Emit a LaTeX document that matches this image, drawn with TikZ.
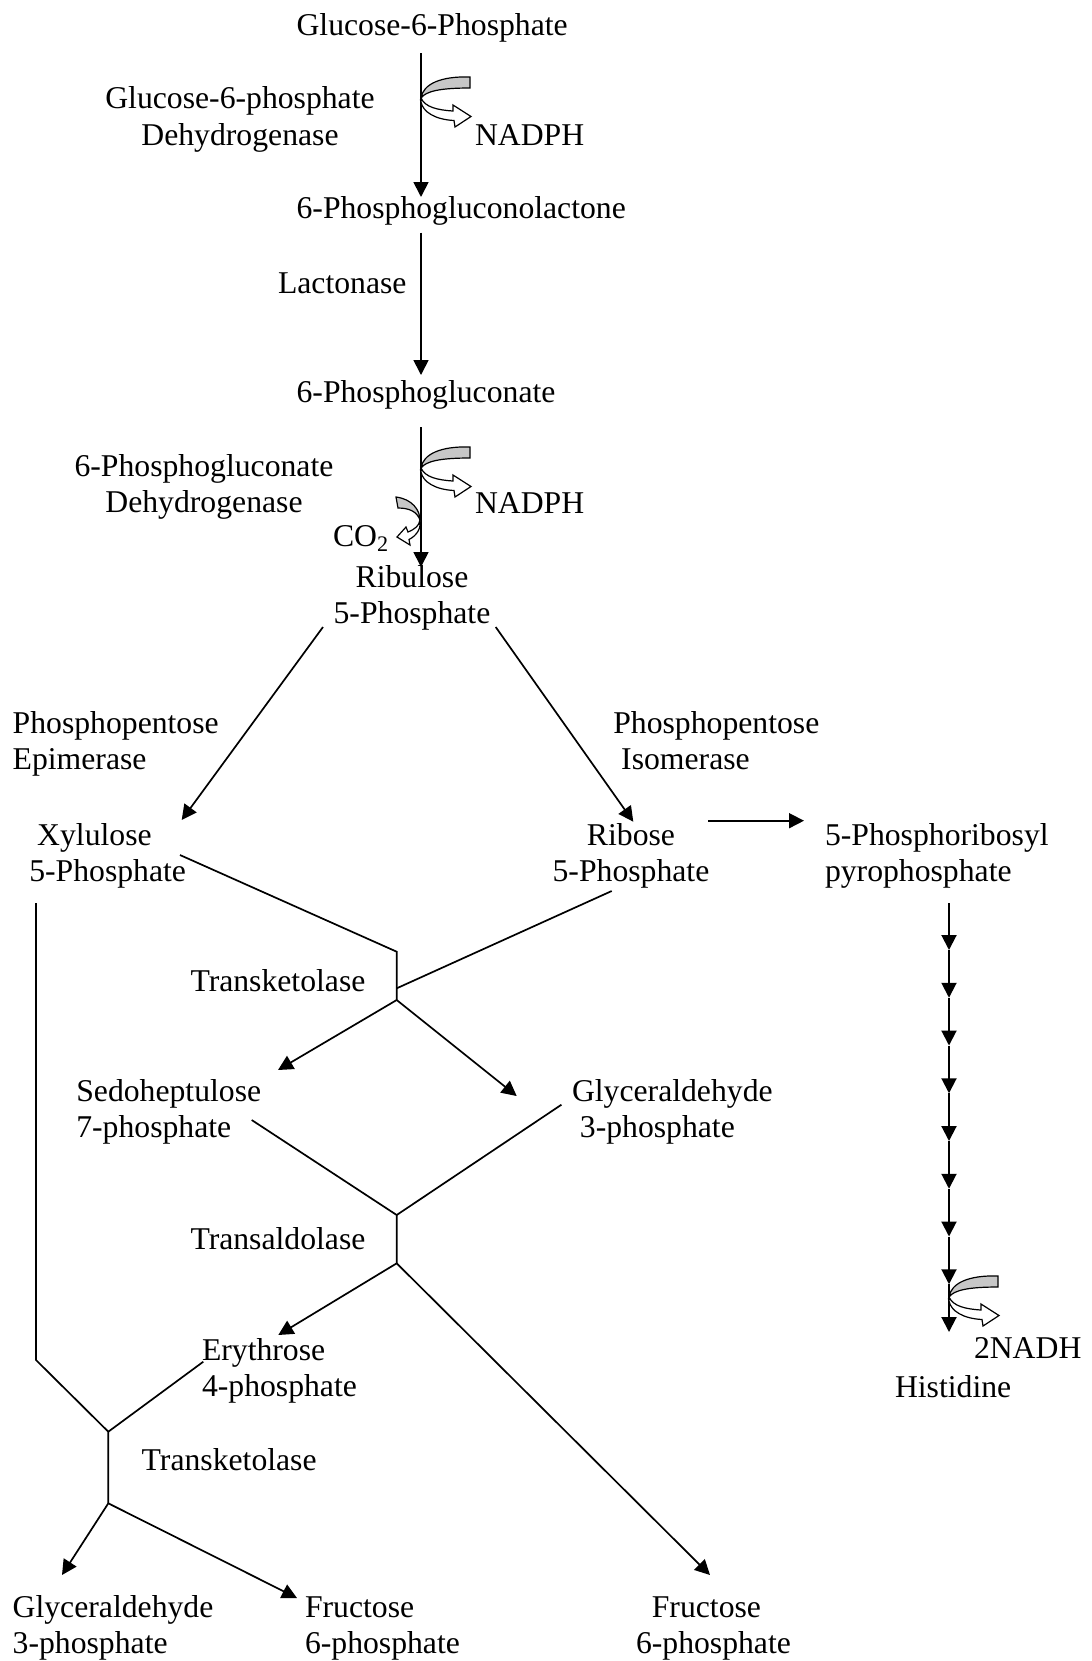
\documentclass[tikz,border=0pt]{standalone}
\usepackage{fontspec}
\setmainfont{Liberation Serif}
\usetikzlibrary{arrows.meta}
\tikzset{
  txt/.style={inner sep=0pt, outer sep=0pt, anchor=base west, align=left},
  txtc/.style={inner sep=0pt, outer sep=0pt, anchor=base, align=center},
  ln/.style={line width=0.85pt},
  arr/.style={line width=0.85pt, -{Triangle[width=7.5pt,length=7.5pt]}},
  cofactor/.pic={
    \filldraw[fill=black!22, line width=0.6pt] (49,-21) .. controls (20,-22) and (2,-14) .. (0,0) .. controls (5,-7) and (20,-10) .. (49,-10) -- cycle;
    \filldraw[fill=white, line width=0.6pt] (0,0) .. controls (4,9) and (16,12) .. (32,13) -- (32,7) -- (50,18.5) -- (34,29) -- (33,22.5) .. controls (14,21.5) and (2,14) .. (0,4) -- cycle;
  },
  coglyph/.pic={
    \filldraw[fill=black!22, line width=0.6pt] (-24,-23) .. controls (-8,-21) and (0,-10) .. (0,0) .. controls (-3,-8) and (-10,-12) .. (-22,-12) -- cycle;
    \filldraw[fill=white, line width=0.6pt] (0,0) .. controls (-1,6) and (-5,9) .. (-12,12) -- (-14,7) -- (-23,17) -- (-10,25) -- (-11,19.5) .. controls (-3,15.5) and (1,8) .. (0,2) -- cycle;
  }
}
\begin{document}
\begin{tikzpicture}[x=0.5pt, y=-0.5pt, font=\fontsize{15.85}{18.35}\selectfont]
\useasboundingbox (0,0) rectangle (1092,1661);

% ---- texts (y = baseline of the last line) ----
\node[txt]  (g6p)    at (296.6,35)   {Glucose-6-Phosphate};
\node[txtc] (g6pd)   at (240,145.2)  {Glucose-6-phosphate\\Dehydrogenase};
\node[txt]  (nadph1) at (475,145)    {NADPH};
\node[txt]  (pgl)    at (296.6,218.5){6-Phosphogluconolactone};
\node[txt]  (lac)    at (278,293)    {Lactonase};
\node[txt]  (pg)     at (296.6,402)  {6-Phosphogluconate};
\node[txtc] (pgd)    at (204,512.7)  {6-Phosphogluconate\\Dehydrogenase};
\node[txt]  (nadph2) at (475,513)    {NADPH};
\node[txt]  (co2)    at (333,546.7)  {CO\textsubscript{2}};
\node[txtc] (ru5p)   at (412,623.7)  {Ribulose\\5-Phosphate};
\node[txt]  (ppe)    at (12.7,769.7) {Phosphopentose\\Epimerase};
\node[txt]  (ppi)    at (613.3,769.7){Phosphopentose\\\hspace*{0.25em}Isomerase};
\node[txt]  (xu5p)   at (29.3,881.7) {\hspace*{0.25em}Xylulose\\5-Phosphate};
\node[txtc] (r5p)    at (631,881.7)  {Ribose\\5-Phosphate};
\node[txt]  (prpp)   at (825,881.7)  {5-Phosphoribosyl\\pyrophosphate};
\node[txt]  (tk1)    at (190.5,991.7){Transketolase};
\node[txt]  (s7p)    at (76.3,1137.7){Sedoheptulose\\7-phosphate};
\node[txt]  (g3pa)   at (572,1137.7) {Glyceraldehyde\\\hspace*{0.25em}3-phosphate};
\node[txt]  (ta)     at (190.5,1249) {Transaldolase};
\node[txt]  (e4p)    at (202,1396.7) {Erythrose\\4-phosphate};
\node[txt]  (nadh)   at (974,1358)   {2NADH};
\node[txt]  (his)    at (895,1397)   {Histidine};
\node[txt]  (tk2)    at (141.7,1470) {Transketolase};
\node[txt]  (g3pb)   at (12.7,1653.7){Glyceraldehyde\\3-phosphate};
\node[txt]  (f6pa)   at (305,1653.7) {Fructose\\6-phosphate};
\node[txt]  (f6pb)   at (636,1653.7) {\hspace*{0.5em}Fructose\\6-phosphate};

% ---- connector end points ----
\coordinate (a1s) at (421,53);    \coordinate (a1e) at (421,197);
\coordinate (a2s) at (421,232.7); \coordinate (a2e) at (421,375);
\coordinate (a3s) at (421,427);   \coordinate (a3e) at (421,567);
\coordinate (ruL) at (323,627);   \coordinate (xuT) at (181.7,820);
\coordinate (ruR) at (495.7,627); \coordinate (rT)  at (633.3,821.7);
\coordinate (rR)  at (708.3,820.7); \coordinate (prL) at (804,820.7);
% transketolase 1
\coordinate (xuR) at (180,855);   \coordinate (k1t) at (396.7,951.7);
\coordinate (k1m) at (396.7,988.3); \coordinate (k1b) at (396.7,1000);
\coordinate (rB)  at (611.7,891);
\coordinate (s7T) at (278,1070);  \coordinate (g3T) at (516.7,1096);
% transaldolase
\coordinate (s7R) at (251.7,1120); \coordinate (g3L) at (561.4,1104.7);
\coordinate (tat) at (396.7,1215); \coordinate (tab) at (396.7,1263.3);
\coordinate (e4T) at (278.3,1335); \coordinate (f6bT) at (710,1575);
% transketolase 2
\coordinate (xuB) at (36,903);    \coordinate (xuC) at (36,1360);
\coordinate (k2t) at (108.3,1431.7); \coordinate (k2b) at (108.3,1503.3);
\coordinate (e4L) at (203.3,1361.7);
\coordinate (g3bT) at (62,1575);  \coordinate (f6aT) at (297,1598);

% ---- oxidative branch ----
\draw[arr] (a1s) -- (a1e);
\draw[arr] (a2s) -- (a2e);
\draw[arr] (a3s) -- (a3e);
\pic (cf1) at (421,98) {cofactor};
\pic (cf2) at (421,468) {cofactor};
\pic (cf3) at (420,520) {coglyph};

% ---- non-oxidative branch ----
\draw[arr] (ruL) -- (xuT);
\draw[arr] (ruR) -- (rT);
\draw[arr] (rR) -- (prL);

\draw[ln] (xuR) -- (k1t) -- (k1b);
\draw[ln] (rB) -- (k1m);
\draw[arr] (k1b) -- (s7T);
\draw[arr] (k1b) -- (g3T);

\draw[ln] (s7R) -- (tat) -- (tab);
\draw[ln] (g3L) -- (tat);
\draw[arr] (tab) -- (e4T);
\draw[arr] (tab) -- (f6bT);

\draw[ln] (xuB) -- (xuC) -- (k2t) -- (k2b);
\draw[ln] (e4L) -- (k2t);
\draw[arr] (k2b) -- (g3bT);
\draw[arr] (k2b) -- (f6aT);

% ---- histidine chain ----
\coordinate (h0) at (949,903.3);
\foreach \k [count=\i from 1, evaluate=\k as \yy using 950+47.75*\k] in {0,...,8} {
  \coordinate (h\i) at (949,\yy);
}
\foreach \i [evaluate=\i as \j using int(\i-1)] in {1,...,9} {
  \draw[arr, line width=1pt] (h\j) -- (h\i);
}
\pic (cf4) at (949,1297) {cofactor};
\end{tikzpicture}
\end{document}
